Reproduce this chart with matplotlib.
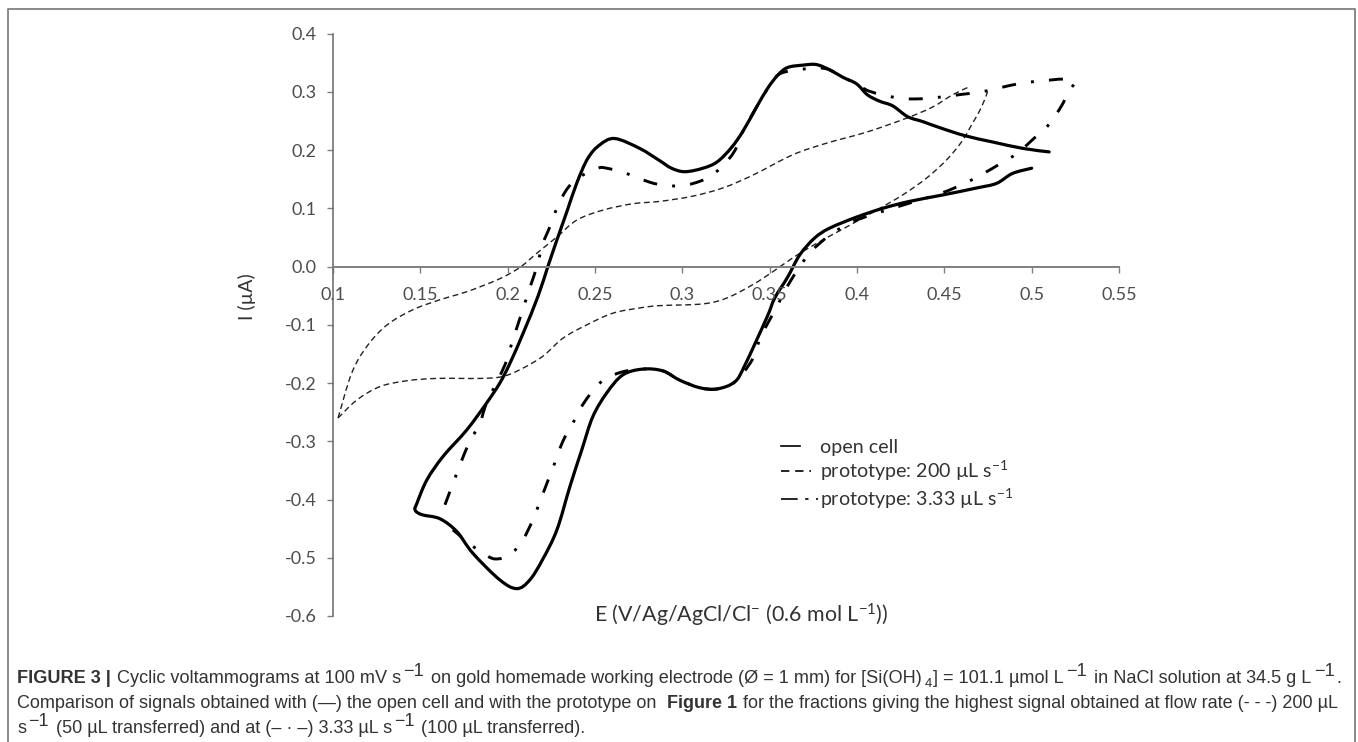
import numpy as np
import matplotlib
matplotlib.use("Agg")
import matplotlib.pyplot as plt
from matplotlib.lines import Line2D
from matplotlib.patches import PathPatch
from matplotlib.path import Path

W, H = 1358, 742
TEXT_GREY = "#4d4d4d"
AXIS_GREY = "#7f7f7f"

x_ticks = [0.1, 0.15, 0.2, 0.25, 0.3, 0.35, 0.4, 0.45, 0.5, 0.55]
x_tick_labels = ["0.1", "0.15", "0.2", "0.25", "0.3", "0.35", "0.4", "0.45", "0.5", "0.55"]
y_ticks = [-0.6, -0.5, -0.4, -0.3, -0.2, -0.1, 0.0, 0.1, 0.2, 0.3, 0.4]

# open cell
open_x = [.51, .495, .4777, .4616, .447, .4377, .429, .4205, .413, .406, .3997, .392, .3843, .3767,
          .369, .3603, .3547, .3488, .3425, .3346, .328, .32, .3118, .3014, .2938, .287, .2756,
          .2613, .2527, .2459, .2396, .2339, .2282, .223, .2173, .2089, .2013, .1955, .188, .1767,
          .163, .1538, .1481, .147, .1509, .1612, .1709, .18, .1955, .2053, .2127, .22, .2282,
          .2356, .2424, .2487, .2567, .2659, .2773, .2888, .2985, .31, .32, .33, .3357, .3483,
          .3529, .3603, .3672, .3757, .3843, .3997, .4146, .43, .449, .4684, .4799, .489, .5]
open_y = [.197, .203, .214, .225, .239, .249, .2575, .276, .284, .295, .314, .325, .338, .347,
          .346, .342, .329, .306, .274, .232, .204, .18, .169, .163, .169, .182, .203,
          .22, .209, .186, .1437, .0944, .0458, 0, -.0515, -.114, -.166, -.2, -.234, -.28,
          -.326, -.366, -.406, -.418, -.426, -.433, -.455, -.492, -.538, -.553, -.538, -.503, -.452,
          -.378, -.315, -.258, -.217, -.186, -.176, -.179, -.195, -.208, -.21, -.198, -.17, -.088,
          -.054, -.018, .02, .049, .066, .085, .1, .112, .123, .135, .143, .16, .169]

# prototype 3.33 uL/s
slow_x = [.1641, .1738, .1784, .1841, .188, .1984, .2024, .2058, .2098, .2133, .2167, .2201, .2241,
          .2287, .2344, .2413, .2516, .2567, .267, .2813, .2894, .3002, .3128, .3225, .33, .3346,
          .3425, .3488, .3547, .3632, .3775, .3843, .392, .3997, .4073, .4227, .4341, .4473, .4604,
          .4713, .4816, .4942, .5062, .5182, .5245, .5205, .5171, .509, .5016, .4919, .4827, .4719,
          .4616, .449, .43, .4158, .4015, .3929, .3843, .374, .3672, .3603, .3546, .345, .34, .33,
          .32, .31, .2985, .2888, .2773, .2642, .2527, .243, .2373, .2316, .227, .223, .2184, .2144,
          .2087, .2013, .1927, .1858, .18, .1686]
slow_y = [-.409, -.332, -.30, -.269, -.234, -.169, -.131, -.1, -.063, -.031, 0, .039, .068,
          .104, .135, .154, .169, .169, .161, .145, .14, .139, .15, .171, .199, .232,
          .274, .306, .329, .337, .341, .338, .325, .314, .301, .29, .288, .291, .296,
          .3, .307, .315, .319, .322, .317, .298, .276, .241, .221, .195, .178, .159,
          .143, .127, .109, .096, .082, .07, .054, .027, 0, -.033, -.066, -.12, -.16, -.198,
          -.21, -.208, -.195, -.179, -.176, -.182, -.2, -.237, -.269, -.30, -.337, -.368, -.404, -.435,
          -.469, -.495, -.502, -.492, -.48, -.452]

# prototype 200 uL/s, two branches from the left tip
fast_up_x = [.1029, .1107, .1194, .131, .1458, .1612, .1767, .1915, .2, .2081, .2167, .2282, .2396,
             .2545, .2716, .287, .3059, .3231, .3403, .3632, .3826, .4055, .4284, .4432, .4547, .4644]
fast_up_y = [-.26, -.183, -.137, -.1, -.074, -.057, -.043, -.026, -.014, .001, .023, .051, .08,
             .097, .108, .112, .121, .135, .157, .192, .212, .231, .255, .274, .295, .309]
fast_low_x = [.1029, .1137, .1269, .1423, .1595, .1841, .1967, .207, .2201, .2316, .2453, .2602, .2756,
              .287, .3118, .3254, .3403, .3517, .3632, .3769, .394, .4112, .4261, .4398, .4512, .4598,
              .4661, .4713, .4747]
fast_low_y = [-.26, -.229, -.206, -.196, -.192, -.192, -.189, -.177, -.154, -.123, -.1, -.08, -.071,
              -.067, -.064, -.054, -.031, -.009, .015, .04, .068, .097, .123, .152, .183, .214,
              .246, .274, .30]

legend_labels = ["open cell", "prototype: 200 µL s$^{-1}$", "prototype: 3.33 µL s$^{-1}$"]

caption_lines = [
    [("FIGURE 3 |", "b"), (5, "gap"), ("Cyclic voltammograms at 100 mV s", "r"), (1, "gap"), ("−1", "sup"), (6, "gap"),
     ("on gold homemade working electrode (Ø = 1 mm) for [Si(OH)", "r"), ("4", "sub"),
     ("] = 101.1 µmol L", "r"), (1, "gap"), ("−1", "sup"), (6, "gap"), ("in NaCl solution at 34.5 g L", "r"), (1, "gap"),
     ("−1", "sup"), (".", "r")],
    [("Comparison of signals obtained with (—) the open cell and with the prototype on", "r"), (5, "gap"),
     ("Figure 1", "b"), (5, "gap"), ("for the fractions giving the highest signal obtained at flow rate (- - -) 200 µL", "r")],
    [("s", "r"), (1, "gap"), ("−1", "sup"), (6, "gap"), ("(50 µL transferred) and at (– · –) 3.33 µL s", "r"), (1, "gap"),
     ("−1", "sup"), (6, "gap"), ("(100 µL transferred).", "r")],
]
caption_baselines = [683, 708, 733]
caption_targets = [1325, 1325, None]


def px(x, y):
    return x / W, 1 - y / H


# curve through the read points, so the traces are not drawn as polygons
def curve(ax, xs, ys, **kw):
    pts = np.column_stack([xs, ys])
    prev = np.vstack([pts[0], pts[:-1]])
    nxt = np.vstack([pts[1:], pts[-1]])
    tang = (nxt - prev) / 6
    verts = [pts[0]]
    codes = [Path.MOVETO]
    for i in range(len(pts) - 1):
        verts += [pts[i] + tang[i], pts[i + 1] - tang[i + 1], pts[i + 1]]
        codes += [Path.CURVE4] * 3
    ax.add_patch(PathPatch(Path(verts, codes), fill=False, **kw))


def put_line(fig, pieces, x0, y, target=None, size=12.4):
    renderer = fig.canvas.get_renderer()
    styles = {"r": (size, "normal", 0), "b": (size, "bold", 0), "sup": (size, "normal", -7), "sub": (size * 0.72, "normal", 4)}
    # measure first so the line can be fitted to the column width
    widths = []
    for txt, kind in pieces:
        if kind == "gap":
            widths.append(txt)
            continue
        s, w, _ = styles[kind]
        t = fig.text(0, 0, txt, fontsize=s, fontweight=w, family="Liberation Sans")
        widths.append(t.get_window_extent(renderer).width + 1)
        t.remove()
    scale = 1.0 if target is None else target / sum(widths)
    x = x0
    for (txt, kind), wd in zip(pieces, widths):
        if kind != "gap":
            s, w, dy = styles[kind]
            fig.text(*px(x, y + dy), txt, fontsize=s * scale, fontweight=w, family="Liberation Sans",
                     color="#333333", va="baseline")
        x += wd * scale
    return scale


def main():
    plt.rcParams["font.family"] = ["Lato", "DejaVu Sans"]
    plt.rcParams["mathtext.default"] = "regular"

    fig = plt.figure(figsize=(W / 100, H / 100), dpi=100)
    ax = fig.add_axes([333 / W, 1 - 616 / H, (1119 - 333) / W, (616 - 33.7) / H])
    ax.set_xlim(0.1, 0.55)
    ax.set_ylim(-0.6, 0.4)

    curve(ax, fast_up_x, fast_up_y, edgecolor="#222222", lw=1.0, linestyle=(0, (4.2, 2.6)))
    curve(ax, fast_low_x, fast_low_y, edgecolor="#222222", lw=1.0, linestyle=(0, (4.2, 2.6)))
    curve(ax, slow_x, slow_y, edgecolor="black", lw=2.1, linestyle=(0, (4.8, 5.2, 1, 5.2)))
    curve(ax, open_x, open_y, edgecolor="black", lw=2.3, joinstyle="round", capstyle="round")

    ax.spines["top"].set_visible(False)
    ax.spines["right"].set_visible(False)
    ax.spines["bottom"].set_position(("data", 0))
    ax.spines["bottom"].set_color(AXIS_GREY)
    ax.spines["bottom"].set_linewidth(1.4)
    ax.spines["left"].set_color("#666666")
    ax.spines["left"].set_linewidth(1.1)

    ax.set_xticks(x_ticks)
    ax.set_xticklabels(x_tick_labels)
    ax.set_yticks(y_ticks)
    ax.set_yticklabels([f"{v:.1f}" for v in y_ticks])
    ax.tick_params(axis="x", length=4.5, width=1, color=AXIS_GREY, labelcolor=TEXT_GREY, labelsize=13, pad=10)
    ax.tick_params(axis="y", length=4.5, width=1, color=AXIS_GREY, labelcolor=TEXT_GREY, labelsize=13, pad=7.5)

    fig.text(*px(741, 615), "E (V/Ag/AgCl/Cl$^{-}$ (0.6 mol L$^{-1}$))", fontsize=15.4, color="#333333",
             ha="center", va="center")
    fig.text(*px(247, 297), "I (µA)", fontsize=14, color="#333333", rotation=90, ha="center", va="center")

    handles = [
        Line2D([], [], color="black", lw=1.2),
        Line2D([], [], color="black", lw=1.2, linestyle=(0, (5, 3.5))),
        Line2D([], [], color="black", lw=1.2, linestyle=(0, (10, 4.5, 2, 4.5))),
    ]
    leg = ax.legend(handles, legend_labels, loc="upper left", bbox_to_anchor=px(781, 438.5),
                    bbox_transform=fig.transFigure, frameon=False, fontsize=14.1, labelcolor="#333333",
                    handlelength=1.9, handletextpad=0.1, borderpad=0, borderaxespad=0, labelspacing=0.18)
    # the open cell key is shorter than the others in the original
    for line, frac in zip(leg.get_lines(), [0.5, 0.8]):
        xd = np.asarray(line.get_xdata(), dtype=float)
        line.set_xdata(np.linspace(xd[0], xd[0] + (xd[-1] - xd[0]) * frac, len(xd)))

    # outer frame, open at the bottom
    fig.add_artist(Line2D([7.5 / W, 7.5 / W, 1355 / W, 1355 / W], [0, 1 - 9 / H, 1 - 9 / H, 0],
                          color="#808080", lw=1.3, transform=fig.transFigure))

    fig.canvas.draw()
    scale = 1.0
    for pieces, base, target in zip(caption_lines, caption_baselines, caption_targets):
        scale = put_line(fig, pieces, 17, base, target, size=12.4 if target else 12.4 * scale)

    fig.savefig("out.png", dpi=100)


if __name__ == "__main__":
    main()
